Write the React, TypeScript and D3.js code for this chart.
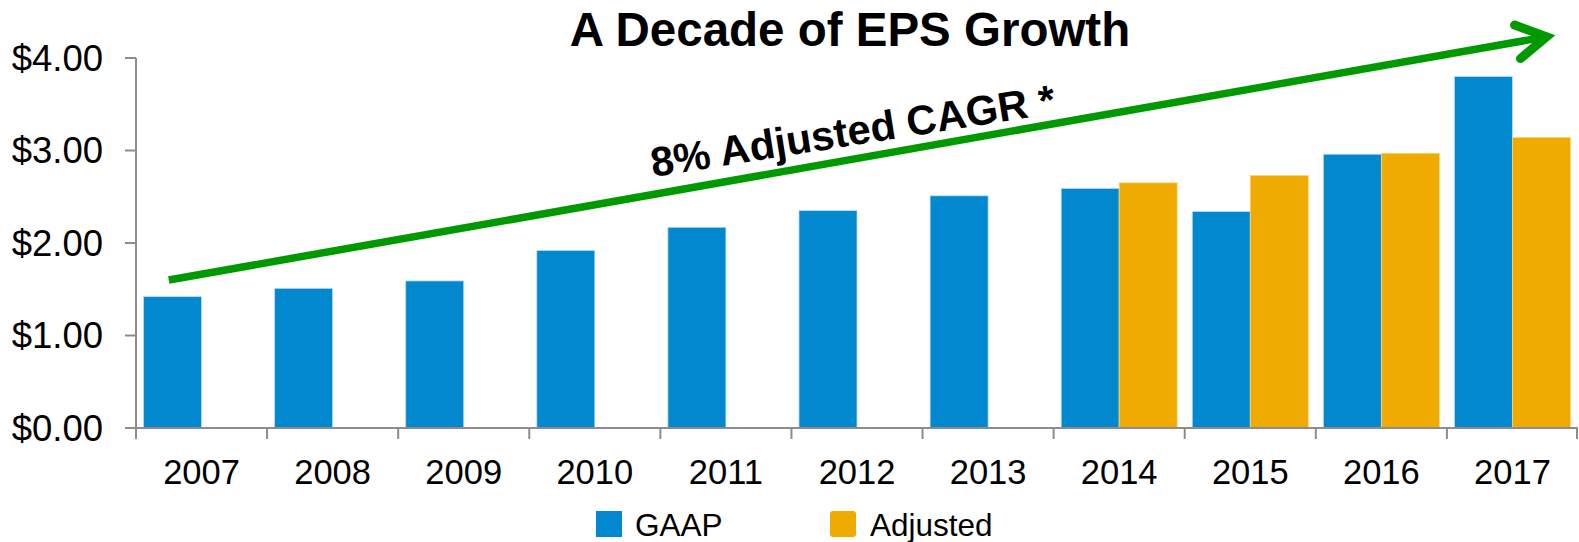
import React from "react";
import * as d3 from "d3";

const years = ["2007", "2008", "2009", "2010", "2011", "2012", "2013", "2014", "2015", "2016", "2017"];
const seriesNames = ["GAAP", "Adjusted"];
const gaapValues = [1.42, 1.51, 1.59, 1.92, 2.17, 2.35, 2.51, 2.59, 2.34, 2.96, 3.8];
const adjustedValues: (number | null)[] = [null, null, null, null, null, null, null, 2.65, 2.73, 2.97, 3.14];
const yTicks = [0, 1, 2, 3, 4];
const titleText = "A Decade of EPS Growth";
const annotationText = "8% Adjusted CAGR *";
// arrow annotation anchored in data space: [category, fraction of band, value]
const arrowStart: [string, number, number] = ["2007", 0.25, 1.6];
const arrowEnd: [string, number, number] = ["2017", 0.76, 4.23];

const W = 1579;
const H = 542;
const BLUE = "#0188CF";
const ORANGE = "#EFAB00";
const GREEN = "#009A00";
const AXIS = "#8C8C8C";
const FONT = "'Liberation Sans', Arial, Helvetica, sans-serif";

export default function App() {
  const x0 = d3.scaleBand<string>().domain(years).range([136, 1578]).paddingInner(0).paddingOuter(0);
  const bw = x0.bandwidth();
  const x1 = d3.scaleBand<string>().domain(seriesNames).range([0, bw]).paddingInner(0).paddingOuter(0.13);
  const y = d3.scaleLinear().domain([0, 4]).range([428, 58]);
  const fmt = d3.format("$.2f");

  const rows = years.map((yr, i) => ({ yr, GAAP: gaapValues[i], Adjusted: adjustedValues[i] }));

  const ax = (p: [string, number, number]) => (x0(p[0]) as number) + p[1] * bw;
  const sx = ax(arrowStart), sy = y(arrowStart[2]);
  const ex = ax(arrowEnd), ey = y(arrowEnd[2]);
  const ang = Math.atan2(sy - ey, sx - ex); // backward direction
  const wl = 34, wa = (30 * Math.PI) / 180;
  const w1 = [ex + wl * Math.cos(ang + wa), ey + wl * Math.sin(ang + wa)];
  const w2 = [ex + wl * Math.cos(ang - wa), ey + wl * Math.sin(ang - wa)];

  return (
    <svg width={W} height={H} style={{ position: "absolute", left: 0, top: 0, background: "#fff" }} fontFamily={FONT}>
      {/* title */}
      <text x={850} y={46} textAnchor="middle" fontSize={47.5} fontWeight="bold" fill="#000">
        {titleText}
      </text>

      {/* bars */}
      {rows.map((r) => (
        <g key={r.yr} transform={`translate(${x0(r.yr)},0)`}>
          {seriesNames.map((s) => {
            const v = (r as any)[s] as number | null;
            if (v == null) return null;
            return (
              <rect
                key={s}
                x={x1(s)}
                y={y(v)}
                width={x1.bandwidth()}
                height={y(0) - y(v)}
                fill={s === "GAAP" ? BLUE : ORANGE}
                stroke={s === "GAAP" ? "#b9dcf1" : "#f6d47f"}
                strokeWidth={0.8}
              />
            );
          })}
        </g>
      ))}

      {/* y axis */}
      <line x1={136} x2={136} y1={y(4)} y2={y(0)} stroke={AXIS} strokeWidth={2} />
      {yTicks.map((t) => (
        <g key={t}>
          <line x1={125} x2={136} y1={y(t)} y2={y(t)} stroke={AXIS} strokeWidth={2} />
          <text x={103} y={y(t)} dy="0.35em" textAnchor="end" fontSize={36.5} fill="#000">
            {fmt(t)}
          </text>
        </g>
      ))}

      {/* x axis */}
      <line x1={136} x2={1578} y1={y(0)} y2={y(0)} stroke={AXIS} strokeWidth={2} />
      {years.map((yr) => (
        <line key={"t" + yr} x1={x0(yr)} x2={x0(yr)} y1={y(0)} y2={y(0) + 11} stroke={AXIS} strokeWidth={2} />
      ))}
      <line x1={1577} x2={1577} y1={y(0)} y2={y(0) + 11} stroke={AXIS} strokeWidth={2} />
      {years.map((yr) => (
        <text key={"l" + yr} x={(x0(yr) as number) + bw / 2} y={484} textAnchor="middle" fontSize={34.5} fill="#000">
          {yr}
        </text>
      ))}

      {/* arrow */}
      <line x1={sx} y1={sy} x2={ex - 4 * Math.cos(ang + Math.PI)} y2={ey - 4 * Math.sin(ang + Math.PI)} stroke={GREEN} strokeWidth={7.5} />
      <path
        d={`M${w1[0]},${w1[1]} L${ex},${ey} L${w2[0]},${w2[1]}`}
        fill="none"
        stroke={GREEN}
        strokeWidth={9}
        strokeLinecap="round"
        strokeLinejoin="miter"
      />
      <text
        transform={`translate(653,177) rotate(-9)`}
        fontSize={41.5}
        fontWeight="bold"
        fill="#000"
      >
        {annotationText}
      </text>

      {/* legend */}
      <rect x={596} y={511} width={26} height={26} fill={BLUE} />
      <text x={635} y={536} fontSize={31.5} fill="#000">GAAP</text>
      <rect x={830} y={511} width={26} height={26} rx={3} fill={ORANGE} />
      <text x={870} y={536} fontSize={31.5} fill="#000">Adjusted</text>
    </svg>
  );
}
